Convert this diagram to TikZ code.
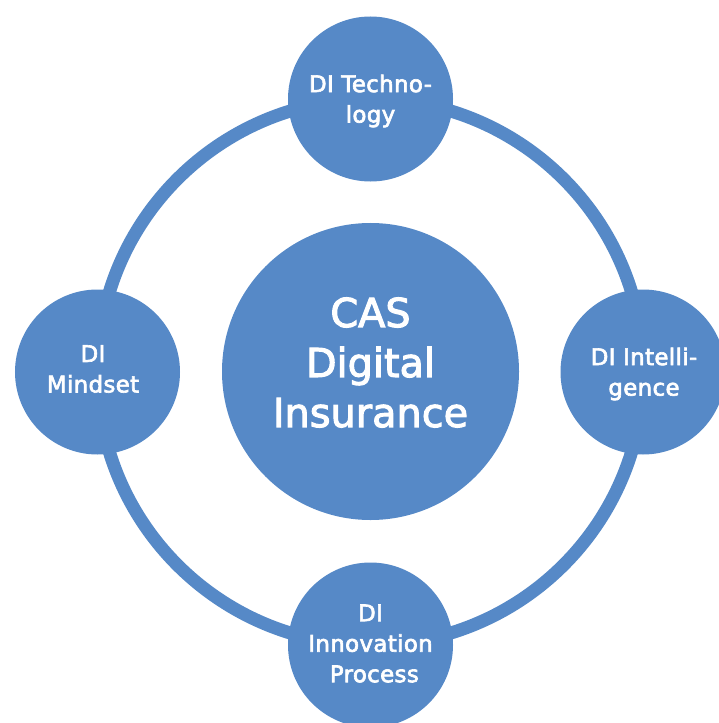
\documentclass[tikz,border=0pt]{standalone}
\usepackage{fontspec}
\setmainfont{DejaVu Sans}[FakeBold=2.6]
\newfontfamily\smallfam{DejaVu Sans}[LetterSpace=1.5, FakeBold=2.8]
\definecolor{diblue}{RGB}{86,137,199}
\tikzset{
  satellite/.style={circle, fill=diblue, draw=none, minimum size=165bp, inner sep=0pt},
  hub/.style={circle, fill=diblue, draw=none, minimum size=297bp, inner sep=0pt},
  sattext/.style={text=white, align=center, inner sep=0pt,
    font=\smallfam\fontsize{22.9bp}{30.5bp}\selectfont},
  hubtext/.style={text=white, align=center, inner sep=0pt,
    font=\fontsize{39.8bp}{50bp}\selectfont},
  ring/.style={draw=diblue, line width=13bp}
}
\begin{document}
\begin{tikzpicture}[x=1bp, y=-1bp]
\useasboundingbox (0,0) rectangle (719,723);
\coordinate (rc) at (370.5,372);
\draw[ring] (rc) circle[radius=273bp];
\node[hub] (hub) at (370.5,371.5) {};
\node[satellite] (tech) at (370.5,99) {};
\node[satellite] (mind) at (97.5,372) {};
\node[satellite] (intel) at (643,372) {};
\node[satellite] (innov) at (370.5,645) {};
\node[hubtext] (hubt) at ([yshift=9bp]hub.center) {CAS\\Digital\\Insurance};
\node[sattext] (techt) at ([yshift=-2bp]tech.center) {DI Techno-\\logy};
\node[sattext] (mindt) at ([xshift=-4.5bp,yshift=3bp]mind.center) {DI\\Mindset};
\node[sattext] (intelt) at ([xshift=1bp,yshift=-2bp]intel.center) {DI Intelli-\\gence};
\node[sattext] (innovt) at ([yshift=1.5bp]innov.center) {DI\\Innovation\\\ Process};
\end{tikzpicture}
\end{document}
